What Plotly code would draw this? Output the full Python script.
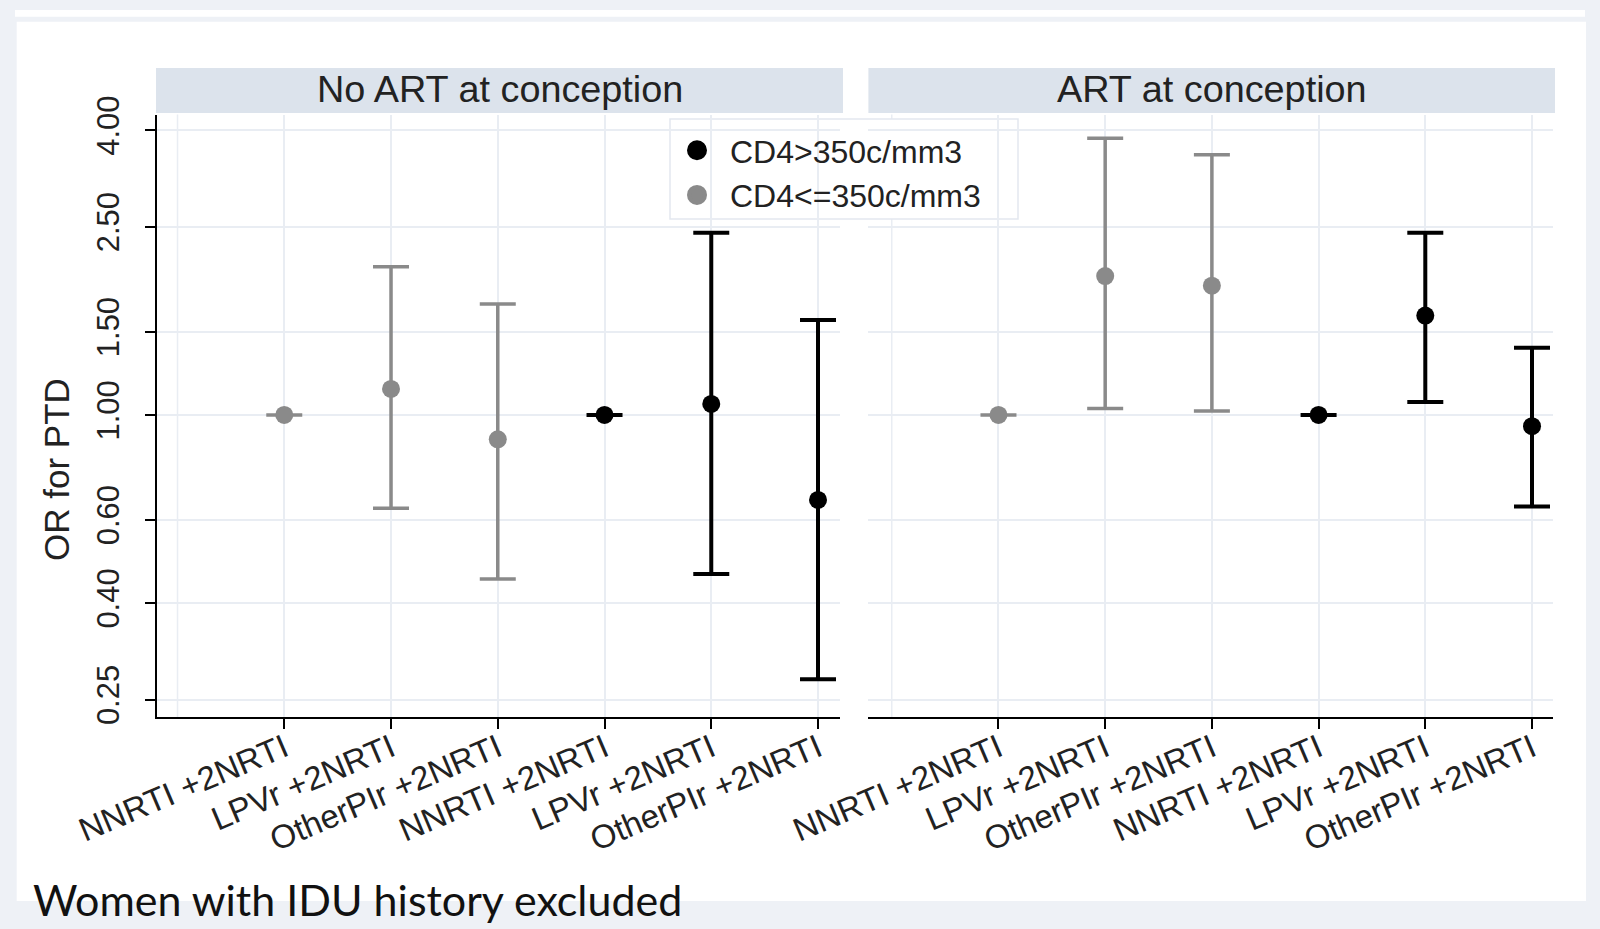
import plotly.graph_objects as go

# Regimen categories (same order within each CD4 stratum)
categories = ["NNRTI +2NRTI", "LPVr +2NRTI", "OtherPIr +2NRTI"]
panel_titles = ["No ART at conception", "ART at conception"]
cd4_labels = ["CD4>350c/mm3", "CD4<=350c/mm3"]

# Odds ratios for PTD with 95% CI -- No ART at conception
noart_low_or = [1.00, 1.135, 0.888]
noart_low_lo = [1.00, 0.635, 0.450]
noart_low_hi = [1.00, 2.058, 1.716]
noart_high_or = [1.00, 1.055, 0.661]
noart_high_lo = [1.00, 0.461, 0.276]
noart_high_hi = [1.00, 2.429, 1.588]

# Odds ratios for PTD with 95% CI -- ART at conception
art_low_or = [1.00, 1.967, 1.877]
art_low_lo = [1.00, 1.032, 1.019]
art_low_hi = [1.00, 3.847, 3.552]
art_high_or = [1.00, 1.623, 0.947]
art_high_lo = [1.00, 1.065, 0.640]
art_high_hi = [1.00, 2.428, 1.388]

y_ticks = [0.25, 0.40, 0.60, 1.00, 1.50, 2.50, 4.00]

W, H = 1600, 929


def px(x):
    return x / W


def py(y):
    return 1 - y / H


BLACK = "#000000"
GREY = "#8a8a8a"
GRID = "#e9edf3"
STRIP = "#dce3ec"
BG = "#eef1f6"
TXT = "#222222"
FONT = "Liberation Sans, Arial, sans-serif"

fig = go.Figure()

low_pos = [1, 2, 3]
high_pos = [4, 5, 6]

panels = [
    ("x", "y", noart_low_or, noart_low_lo, noart_low_hi,
     noart_high_or, noart_high_lo, noart_high_hi),
    ("x2", "y2", art_low_or, art_low_lo, art_low_hi,
     art_high_or, art_high_lo, art_high_hi),
]


def err(vals, lo, hi):
    return dict(
        type="data", symmetric=False,
        array=[h - v for v, h in zip(vals, hi)],
        arrayminus=[v - l for v, l in zip(vals, lo)],
    )


for xa, ya, lor, llo, lhi, hor, hlo, hhi in panels:
    fig.add_trace(go.Scatter(
        x=high_pos, y=hor, xaxis=xa, yaxis=ya, mode="markers",
        name=cd4_labels[0], legendgroup="high", showlegend=False,
        marker=dict(color=BLACK, size=18, symbol="circle"),
        error_y=dict(err(hor, hlo, hhi), color=BLACK, thickness=4, width=18),
    ))
    fig.add_trace(go.Scatter(
        x=low_pos, y=lor, xaxis=xa, yaxis=ya, mode="markers",
        name=cd4_labels[1], legendgroup="low", showlegend=False,
        marker=dict(color=GREY, size=18, symbol="circle"),
        error_y=dict(err(lor, llo, lhi), color=GREY, thickness=3.5, width=18),
    ))

# legend keys (larger symbols than the legend allows for the data traces)
for name, color, grp in [(cd4_labels[0], BLACK, "high"), (cd4_labels[1], GREY, "low")]:
    fig.add_trace(go.Scatter(
        x=[None], y=[None], mode="markers", name=name, legendgroup=grp,
        marker=dict(color=color, size=16, line=dict(color=color, width=4)),
    ))

y_dom = [py(717.4), py(114.5)]
y_rng = [-0.6397, 0.6355]
tick_text = categories + categories

common_x = dict(
    tickmode="array", tickvals=[1, 2, 3, 4, 5, 6], ticktext=tick_text,
    tickangle=-23, ticks="outside", ticklen=10, tickwidth=2, tickcolor=BLACK,
    showline=True, linecolor=BLACK, linewidth=2,
    showgrid=True, gridcolor=GRID, gridwidth=1.5, zeroline=False,
    tickfont=dict(family=FONT, size=33, color=TXT), automargin=False,
    ticklabelstandoff=-13,
)
common_y = dict(
    type="log", range=y_rng, domain=y_dom, tickmode="array",
    tickvals=y_ticks, ticktext=[f"{v:.2f}" for v in y_ticks],
    showgrid=True, gridcolor=GRID, gridwidth=1.5, zeroline=False,
    automargin=False,
)

fig.update_layout(
    xaxis=dict(common_x, domain=[px(156.7), px(839.8)], range=[-0.195, 6.204], anchor="y"),
    xaxis2=dict(common_x, domain=[px(868.4), px(1552.6)], range=[-0.219, 6.193], anchor="y2"),
    yaxis=dict(common_y, anchor="x", showline=True, linecolor=BLACK, linewidth=2,
               ticks="outside", ticklen=10, tickwidth=2, tickcolor=BLACK,
               tickangle=-90, ticklabelstandoff=13,
               tickfont=dict(family=FONT, size=31, color=TXT)),
    yaxis2=dict(common_y, anchor="x2", showline=False, showticklabels=False, ticks=""),
)

shapes = [
    # white page area
    dict(type="rect", xref="paper", yref="paper", x0=px(16.7), x1=px(1586),
         y0=py(901), y1=py(21.7), fillcolor="white", line=dict(width=0), layer="below"),
    dict(type="rect", xref="paper", yref="paper", x0=px(15), x1=px(1585),
         y0=py(16.7), y1=py(10), fillcolor="white", line=dict(width=0), layer="below"),
]
# facet header strips
for x0, x1 in [(156.0, 843.0), (868.4, 1555.0)]:
    shapes.append(dict(type="rect", xref="paper", yref="paper", x0=px(x0), x1=px(x1),
                       y0=py(113), y1=py(68), fillcolor=STRIP, line=dict(width=0),
                       layer="below"))
for xa in ["x", "x2"]:
    ya = "y" if xa == "x" else "y2"
    # left-most vertical grid line at position 0
    shapes.append(dict(type="line", xref=xa, yref=f"{ya} domain",
                       x0=0, x1=0, y0=0, y1=1, line=dict(color=GRID, width=1.5),
                       layer="below"))
    # reference line OR = 1
    shapes.append(dict(type="line", xref=f"{xa} domain", yref=ya,
                       x0=0, x1=1, y0=1, y1=1,
                       line=dict(color="#333333", width=2, dash="16px,9px"),
                       layer="below"))

annotations = []
for title, (x0, x1) in zip(panel_titles, [(156.0, 843.0), (868.4, 1555.0)]):
    annotations.append(dict(text=title, xref="paper", yref="paper",
                            x=px((x0 + x1) / 2), y=py(89.5), xanchor="center",
                            yanchor="middle", showarrow=False,
                            font=dict(family=FONT, size=37.8, color=TXT)))
annotations.append(dict(text="OR for PTD", xref="paper", yref="paper", x=px(56),
                        y=py(470), textangle=-90, xanchor="center", yanchor="middle",
                        showarrow=False, font=dict(family=FONT, size=35, color=TXT)))
annotations.append(dict(text="Women with IDU history excluded", xref="paper", yref="paper",
                        x=px(31), y=py(899), xanchor="left", yanchor="middle",
                        showarrow=False, font=dict(family="Lato, sans-serif", size=43,
                                                   color="#111111")))
# legend frame
shapes.append(dict(type="rect", xref="paper", yref="paper", x0=px(670), x1=px(1018),
                   y0=py(219), y1=py(119), fillcolor="white",
                   line=dict(color="#e3e8ef", width=1.5), layer="below"))

fig.update_layout(
    width=W, height=H, margin=dict(l=0, r=0, t=0, b=0),
    paper_bgcolor=BG, plot_bgcolor="rgba(0,0,0,0)",
    shapes=shapes, annotations=annotations,
    legend=dict(x=px(664), y=py(123), xanchor="left", yanchor="top",
                bgcolor="rgba(0,0,0,0)", borderwidth=0, itemwidth=56,
                font=dict(family=FONT, size=32, color=TXT), tracegroupgap=0),
    showlegend=True,
)

fig.write_html("out.html")
